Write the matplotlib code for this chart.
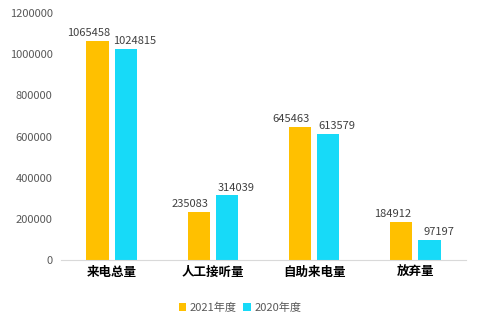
import numpy as np
import matplotlib
matplotlib.use('Agg')
import matplotlib.pyplot as plt

plt.rcParams['font.family'] = ['Noto Sans CJK SC', 'DejaVu Sans']

categories = ['来电总量', '人工接听量', '自助来电量', '放弃量']
y2021 = [1065458, 235083, 645463, 184912]
y2020 = [1024815, 314039, 613579, 97197]
series_labels = ['2021年度', '2020年度']
colors = ['#FFC000', '#17DAF8']

fig = plt.figure(figsize=(4.8, 3.27), dpi=100)
ax = fig.add_axes([0.127, 0.205, 0.844, 0.755])

x = np.arange(len(categories))
w = 0.22
off = 0.14
b1 = ax.bar(x - off, y2021, w, color=colors[0], label=series_labels[0])
b2 = ax.bar(x + off, y2020, w, color=colors[1], label=series_labels[1])

# value labels, nudged outward so neighbouring labels don't collide
for bars, vals, dx in ((b1, y2021, -6.5), (b2, y2020, 6.5)):
    for rect, v in zip(bars, vals):
        ax.annotate(str(v), (rect.get_x() + rect.get_width() / 2, v),
                    xytext=(dx, 2), textcoords='offset points',
                    ha='center', va='bottom', fontsize=8, color='#404040')

ax.set_xlim(-0.5, 3.5)
ax.set_ylim(0, 1200000)
ax.set_yticks(np.arange(0, 1200001, 200000))
ax.set_yticklabels([str(v) for v in range(0, 1200001, 200000)], fontsize=8, color='#595959')
ax.set_xticks(x)
ax.set_xticklabels(categories, fontsize=9, fontweight='bold', color='#000000')
ax.tick_params(length=0, pad=6)
ax.tick_params(axis='x', pad=4)

for s in ['top', 'right', 'left']:
    ax.spines[s].set_visible(False)
ax.spines['bottom'].set_color('#D9D9D9')

fig.legend(loc='center', bbox_to_anchor=(0.5, 0.06), ncol=2, frameon=False,
           fontsize=8, handlelength=0.7, handleheight=0.7, columnspacing=0.6,
           handletextpad=0.3, labelcolor='#595959')

fig.savefig('out.png', dpi=100)
